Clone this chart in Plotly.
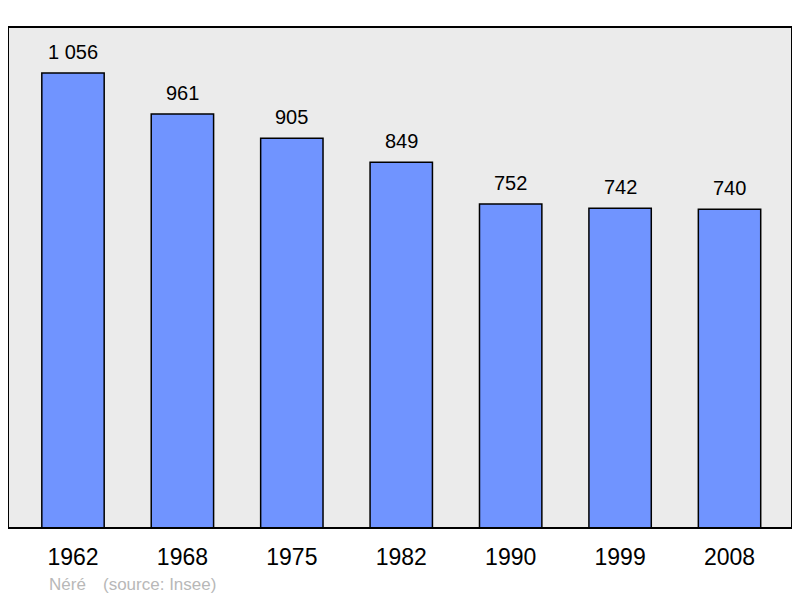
import plotly.graph_objects as go

# population data
years = ["1962", "1968", "1975", "1982", "1990", "1999", "2008"]
population = [1056, 961, 905, 849, 752, 742, 740]
labels = ["1 056", "961", "905", "849", "752", "742", "740"]

fig = go.Figure(
    data=[go.Bar(
        x=years, y=population,
        width=0.57,
        marker=dict(color="#7094ff", line=dict(color="black", width=1.5)),
        hoverinfo="skip",
    )]
)

# value labels above the bars (x given as category index)
for i, (val, lab) in enumerate(zip(population, labels)):
    fig.add_annotation(x=i, y=val, text=lab, showarrow=False,
                       yanchor="bottom", yshift=8,
                       font=dict(size=20, color="black"))

# plot frame
fig.add_shape(type="rect", xref="paper", yref="paper", x0=0, y0=0, x1=1, y1=1,
              line=dict(color="black", width=2), layer="above")

fig.add_annotation(text="Néré", xref="paper", yref="paper",
                   x=0.05, y=-0.112, xanchor="left", yanchor="middle",
                   showarrow=False, font=dict(size=17, color="#b8b8b8"))
fig.add_annotation(text="(source: Insee)", xref="paper", yref="paper",
                   x=0.118, y=-0.112, xanchor="left", yanchor="middle",
                   showarrow=False, font=dict(size=17, color="#b8b8b8"))

fig.update_layout(
    width=800, height=598,
    margin=dict(l=0, r=16, t=19, b=78),
    paper_bgcolor="white",
    plot_bgcolor="#ebebeb",
    font=dict(family="Liberation Sans, Arial, sans-serif", size=18, color="black"),
    showlegend=False,
    xaxis=dict(type="category", range=[-0.594, 6.571], showgrid=False, ticks="",
               tickfont=dict(size=23), ticklabelstandoff=13),
    yaxis=dict(range=[0, 1163], visible=False, showgrid=False),
)

fig.write_html("out.html")
